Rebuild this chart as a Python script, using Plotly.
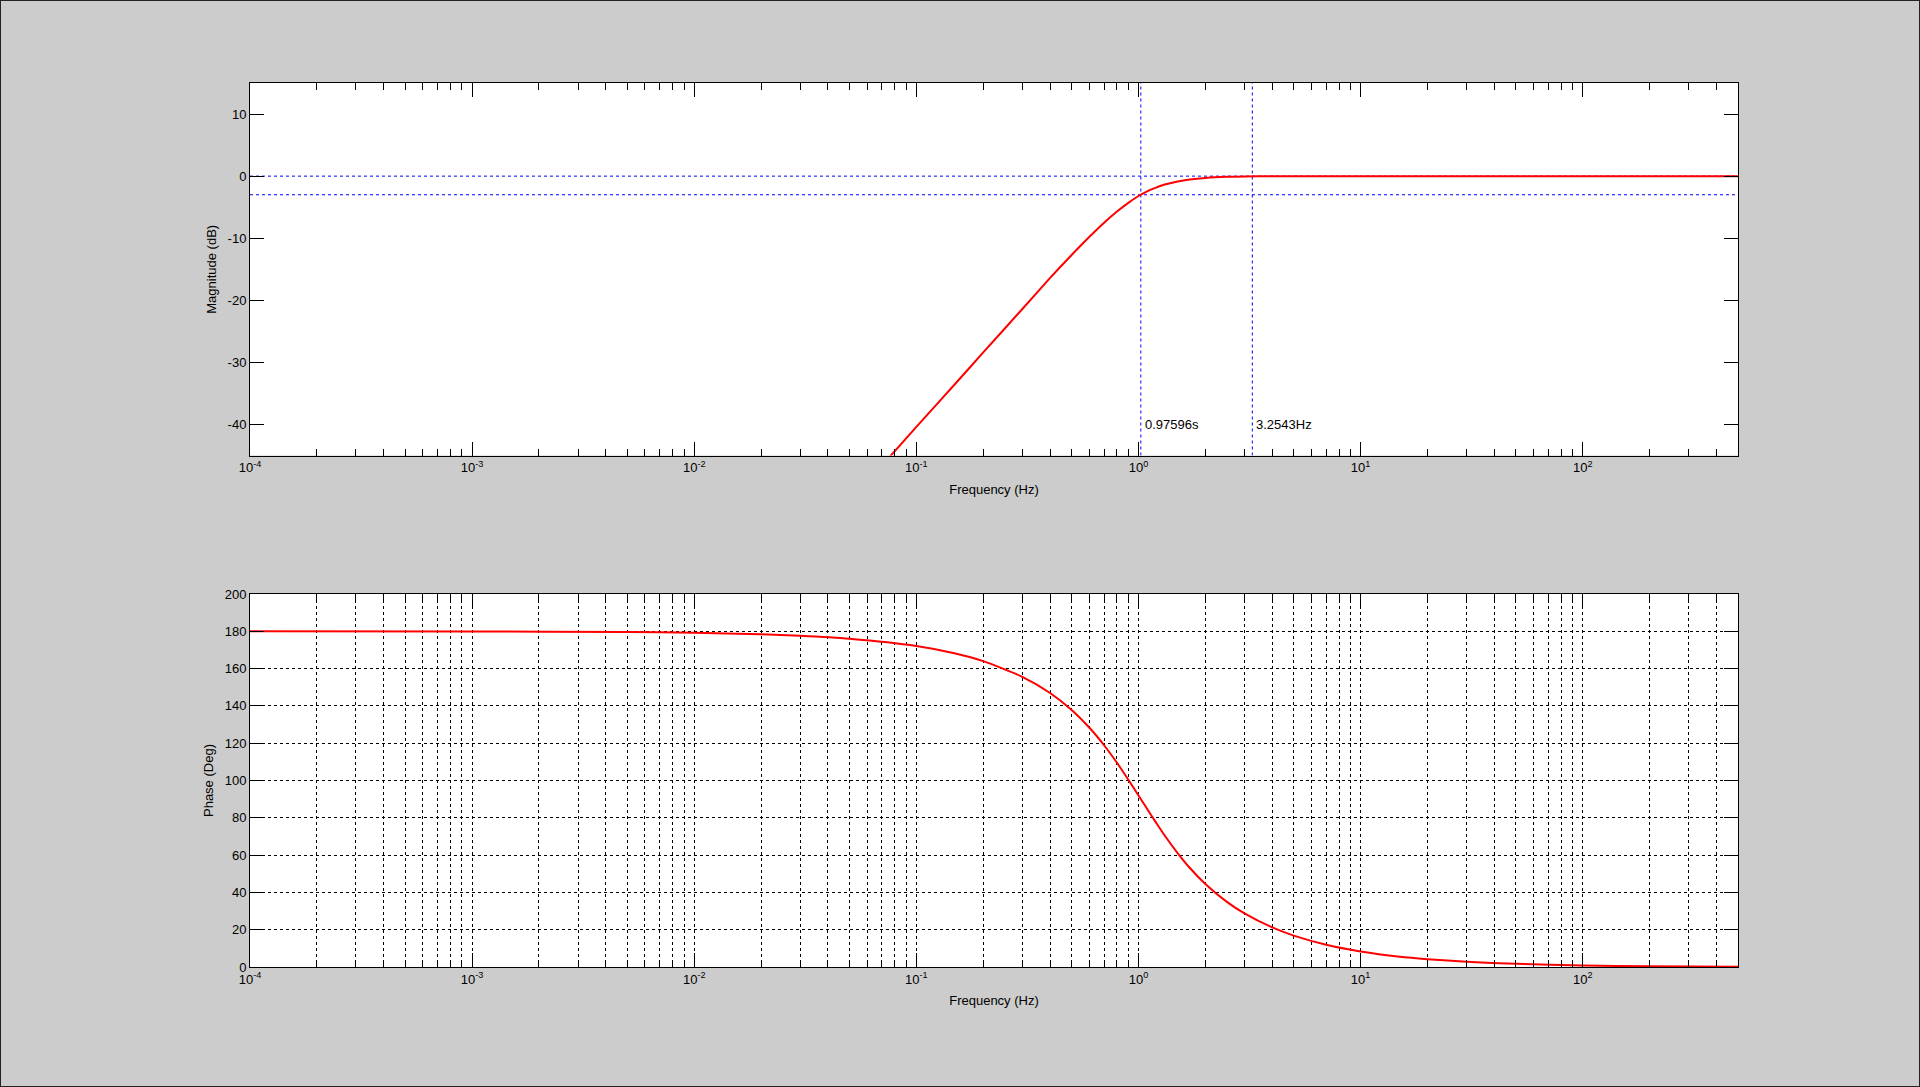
import math
import plotly.graph_objects as go

# ---- data ----
mag_freq = [0.05, 0.07, 0.1, 0.15, 0.2, 0.3, 0.4, 0.5, 0.6, 0.7, 0.8, 0.9,
            1.0, 1.1, 1.2, 1.3, 1.5, 1.7, 2.0, 2.5, 3.0, 4.0, 5.0, 10.0, 500.0]
mag_db = [-52.5, -46.6, -40.4, -33.4, -28.4, -21.4, -16.4, -12.7, -9.8, -7.5,
          -5.7, -4.3, -3.2, -2.4, -1.85, -1.4, -0.86, -0.54, -0.29, -0.12,
          -0.06, -0.02, -0.01, 0.0, 0.0]

ph_freq = [1e-4, 1e-3, 5e-3, 0.01, 0.02, 0.03, 0.05, 0.1, 0.15, 0.2, 0.3, 0.4,
           0.5, 0.6, 0.7, 0.8, 0.9, 1.0, 1.1, 1.2, 1.3, 1.5, 1.7, 2.0, 2.5,
           3.0, 4.0, 5.0, 7.0, 10.0, 15.0, 20.0, 30.0, 50.0, 100.0, 200.0, 500.0]
ph_deg = [180.0, 179.9, 179.6, 179.2, 178.4, 177.6, 176.0, 172.1, 168.1, 164.0,
          155.6, 146.9, 137.8, 128.4, 118.9, 109.5, 100.4, 92.0, 84.3, 77.4,
          71.2, 61.1, 53.2, 44.5, 34.9, 28.7, 21.2, 16.8, 11.9, 8.3, 5.5, 4.2,
          2.8, 1.7, 0.8, 0.4, 0.2]

cut_freq = 1.0246      # -3 dB point, labelled 0.97596s
flat_freq = 3.2543     # labelled 3.2543Hz
ref_levels = [0, -3]
marker_labels = ["0.97596s", "3.2543Hz"]

x_lo, x_hi = 1e-4, 500
mag_range = [-45, 15]
mag_ticks = [-40, -30, -20, -10, 0, 10]
ph_range = [0, 200]
ph_ticks = [0, 20, 40, 60, 80, 100, 120, 140, 160, 180, 200]

decades = [-4, -3, -2, -1, 0, 1, 2]
major_x = [10.0 ** k for k in decades]
major_text = ["10<sup>%d</sup>" % k for k in decades]
minor_x = [d * 10.0 ** k for k in decades for d in range(2, 10) if d * 10.0 ** k <= x_hi]

FONT = "Liberation Sans, Arial, sans-serif"
FS = 13
RED = "#ff0000"
BLUE = "#0000ff"
DASH = "3px,3px"

fig = go.Figure()

# magnitude plot
for lvl in ref_levels:
    fig.add_trace(go.Scatter(x=[x_lo, x_hi], y=[lvl, lvl], mode="lines",
                             line=dict(color=BLUE, width=1, dash=DASH),
                             xaxis="x", yaxis="y", showlegend=False, hoverinfo="skip"))
for f in [cut_freq, flat_freq]:
    fig.add_trace(go.Scatter(x=[f, f], y=mag_range, mode="lines",
                             line=dict(color=BLUE, width=1, dash=DASH),
                             xaxis="x", yaxis="y", showlegend=False, hoverinfo="skip"))
fig.add_trace(go.Scatter(x=mag_freq, y=mag_db, mode="lines",
                         line=dict(color=RED, width=2, shape="spline", smoothing=0.6),
                         xaxis="x", yaxis="y", showlegend=False))

# phase plot
fig.add_trace(go.Scatter(x=ph_freq, y=ph_deg, mode="lines",
                         line=dict(color=RED, width=2, shape="spline", smoothing=0.6),
                         xaxis="x2", yaxis="y2", showlegend=False))


def xaxis(domain, anchor, grid):
    return dict(
        type="log", range=[-4, math.log10(x_hi)], domain=domain, anchor=anchor,
        automargin=False,
        tickmode="array", tickvals=major_x, ticktext=major_text,
        ticks="inside", ticklen=14, tickwidth=1, tickcolor="black",
        showline=True, linecolor="black", linewidth=1, mirror="ticks",
        showgrid=grid, gridcolor="black", gridwidth=1, griddash=DASH,
        zeroline=False,
        minor=dict(tickmode="array", tickvals=minor_x, ticks="inside", ticklen=7,
                   tickwidth=1, tickcolor="black", showgrid=grid,
                   gridcolor="black", gridwidth=1, griddash=DASH),
        tickfont=dict(family=FONT, size=FS, color="black"),
        title=dict(text="Frequency (Hz)", standoff=10,
                   font=dict(family=FONT, size=FS, color="black")),
    )


def yaxis(domain, anchor, rng, ticks, title, grid):
    return dict(
        range=rng, domain=domain, anchor=anchor, automargin=False,
        tickmode="array", tickvals=ticks, ticktext=[str(t) for t in ticks],
        ticks="inside", ticklen=14, tickwidth=1, tickcolor="black",
        showline=True, linecolor="black", linewidth=1, mirror="ticks",
        showgrid=grid, gridcolor="black", gridwidth=1, griddash=DASH,
        zeroline=False,
        tickfont=dict(family=FONT, size=FS, color="black"),
        title=dict(text=title, standoff=8,
                   font=dict(family=FONT, size=FS, color="black")),
    )


W, H = 1920, 1087
xdom = [250 / W, 1738 / W]

fig.update_layout(
    width=W, height=H,
    margin=dict(l=0, r=0, t=0, b=0, pad=0, autoexpand=False),
    paper_bgcolor="#cccccc", plot_bgcolor="white",
    font=dict(family=FONT, size=FS, color="black"),
    xaxis=xaxis(xdom, "y", False),
    yaxis=yaxis([1 - 455.5 / H, 1 - 83 / H], "x", mag_range, mag_ticks, "Magnitude (dB)", False),
    xaxis2=xaxis(xdom, "y2", True),
    yaxis2=yaxis([1 - 967 / H, 1 - 594 / H], "x2", ph_range, ph_ticks, "Phase (Deg)", True),
    shapes=[dict(type="rect", xref="paper", yref="paper", x0=0, y0=0, x1=1, y1=1,
                 line=dict(color="#222222", width=2))],
)

# marker labels beside the vertical lines
for f, txt in zip([cut_freq, flat_freq], marker_labels):
    fig.add_annotation(x=math.log10(f), y=-40, xref="x", yref="y", text=txt,
                       showarrow=False, xanchor="left", yanchor="middle", xshift=2,
                       font=dict(family=FONT, size=FS, color="black"))

# pin the plot to the window corner (no page margin)
pin = ("document.body.style.margin='0';document.body.style.overflow='hidden';"
       "var d=document.getElementById('{plot_id}');"
       "d.style.position='fixed';d.style.left='0px';d.style.top='0px';")

fig.write_html("out.html", config={"displayModeBar": False}, post_script=pin)
